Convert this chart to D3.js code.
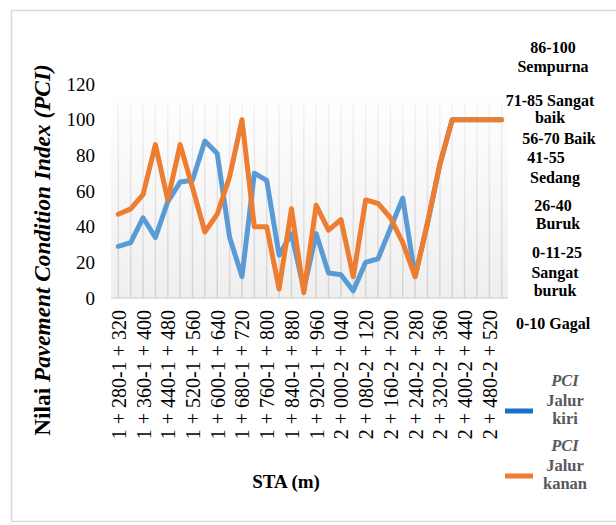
<!DOCTYPE html>
<html>
<head>
<meta charset="utf-8">
<script src="https://cdn.jsdelivr.net/npm/d3@7"></script>
<style>
  html, body { margin: 0; padding: 0; background: #fff; }
  svg { display: block; }
  text { font-family: "Liberation Serif", "Times New Roman", serif; }
</style>
</head>
<body>
<svg id="chart" width="616" height="525"></svg>
<script>
// Road segments (STA), every 40 m
const stations = [
  "1 + 280-1 + 320", "1 + 320-1 + 360", "1 + 360-1 + 400", "1 + 400-1 + 440",
  "1 + 440-1 + 480", "1 + 480-1 + 520", "1 + 520-1 + 560", "1 + 560-1 + 600",
  "1 + 600-1 + 640", "1 + 640-1 + 680", "1 + 680-1 + 720", "1 + 720-1 + 760",
  "1 + 760-1 + 800", "1 + 800-1 + 840", "1 + 840-1 + 880", "1 + 880-1 + 920",
  "1 + 920-1 + 960", "1 + 960-2 + 000", "2 + 000-2 + 040", "2 + 040-2 + 080",
  "2 + 080-2 + 120", "2 + 120-2 + 160", "2 + 160-2 + 200", "2 + 200-2 + 240",
  "2 + 240-2 + 280", "2 + 280-2 + 320", "2 + 320-2 + 360", "2 + 360-2 + 400",
  "2 + 400-2 + 440", "2 + 440-2 + 480", "2 + 480-2 + 520", "2 + 520-2 + 560"
];

// PCI, left lane
const pciKiri = [
  29, 31, 45, 34, 54, 65, 66, 88, 81, 34, 12, 70, 66, 24, 36, 5,
  36, 14, 13, 4, 20, 22, 39, 56, 12, 42, 75, 100, 100, 100, 100, 100
];

// PCI, right lane
const pciKanan = [
  47, 50, 58, 86, 55, 86, 62, 37, 47, 68, 100, 40, 40, 5, 50, 3,
  52, 38, 44, 12, 55, 53, 45, 31, 12, 42, 75, 100, 100, 100, 100, 100
];

const yTicks = [0, 20, 40, 60, 80, 100, 120];

// Condition classes listed on the right, one text line each
const classText = [
  "86-100", "Sempurna",
  "71-85 Sangat", "baik",
  "56-70 Baik",
  "41-55", "Sedang",
  "26-40", "Buruk",
  "0-11-25", "Sangat", "buruk",
  "0-10 Gagal"
];
// where each of those lines sits (centre x, centre y)
const classLayout = [
  [553, 47], [553, 66],
  [550, 100], [550, 117],
  [559, 138],
  [546, 157], [555, 177],
  [553, 205], [558, 223],
  [557, 252], [555, 272], [555, 290],
  [553, 323]
];

const seriesInfo = [
  { name: "Jalur kiri", values: pciKiri, line: "#5B9BD5", swatch: "#1872C6" },
  { name: "Jalur kanan", values: pciKanan, line: "#ED7D31", swatch: "#ED7D31" }
];

const svg = d3.select("#chart");
const defs = svg.append("defs");

const plot = { left: 111, right: 508, top: 84, bottom: 298 };

const x = d3.scalePoint().domain(stations).range([118.3, 501.7]);
const y = d3.scaleLinear().domain([0, 120]).range([298, 84]);

// Outer frame
svg.append("rect")
  .attr("x", 11.5).attr("y", 10.5)
  .attr("width", 640).attr("height", 511)
  .attr("fill", "#fff").attr("stroke", "#d9d9d9").attr("stroke-width", 1.5);

// Plot area with a soft vertical fade
const bg = defs.append("linearGradient").attr("id", "plotFade")
  .attr("x1", 0).attr("y1", 0).attr("x2", 0).attr("y2", 1);
bg.append("stop").attr("offset", "0%").attr("stop-color", "#ffffff");
bg.append("stop").attr("offset", "100%").attr("stop-color", "#efefef");

svg.append("rect")
  .attr("x", plot.left).attr("y", plot.top)
  .attr("width", plot.right - plot.left).attr("height", plot.bottom - plot.top)
  .attr("fill", "url(#plotFade)");

// Vertical gridlines fading out towards the top
const gg = defs.append("linearGradient").attr("id", "gridFade")
  .attr("gradientUnits", "userSpaceOnUse")
  .attr("x1", 0).attr("y1", plot.top).attr("x2", 0).attr("y2", plot.bottom);
gg.append("stop").attr("offset", "0%").attr("stop-color", "#d4d4d4").attr("stop-opacity", 0.15);
gg.append("stop").attr("offset", "100%").attr("stop-color", "#d4d4d4").attr("stop-opacity", 1);

svg.append("g")
  .selectAll("line")
  .data(stations)
  .join("line")
  .attr("x1", d => x(d)).attr("x2", d => x(d))
  .attr("y1", plot.top + 20).attr("y2", plot.bottom)
  .attr("stroke", "url(#gridFade)")
  .attr("stroke-width", 1.5);

// Category axis, every second station labelled
const xAxis = d3.axisBottom(x)
  .tickValues(stations.filter((d, i) => i % 2 === 0))
  .tickSize(0).tickPadding(0);
const gx = svg.append("g").attr("transform", `translate(0,${plot.bottom})`).call(xAxis);
gx.select(".domain").attr("d", `M${plot.left},0H${plot.right}`)
  .attr("stroke", "#d9d9d9").attr("stroke-width", 1.5);
gx.selectAll(".tick text")
  .attr("fill", "#000")
  .attr("font-size", 20)
  .attr("text-anchor", "end")
  .attr("dy", null)
  .attr("dominant-baseline", "central")
  .attr("transform", "translate(0,12) rotate(-90)")
  .attr("y", 0).attr("x", 0);

// Value axis
const yAxis = d3.axisLeft(y).tickValues(yTicks).tickSize(0).tickPadding(0);
const gy = svg.append("g").attr("transform", "translate(95,0)").call(yAxis);
gy.select(".domain").remove();
gy.selectAll(".tick text")
  .attr("fill", "#000")
  .attr("font-size", 19);

// PCI lines
const line = d3.line().x((d, i) => x(stations[i])).y(d => y(d));
svg.append("g")
  .selectAll("path")
  .data(seriesInfo)
  .join("path")
  .attr("d", d => line(d.values))
  .attr("fill", "none")
  .attr("stroke", d => d.line)
  .attr("stroke-width", 5)
  .attr("stroke-linejoin", "round")
  .attr("stroke-linecap", "round");

// Axis titles
const yTitle = svg.append("text")
  .attr("transform", "translate(50,250) rotate(-90)")
  .attr("text-anchor", "middle")
  .attr("font-size", 23.3)
  .attr("font-weight", "bold")
  .attr("fill", "#000");
yTitle.append("tspan").text("Nilai ");
yTitle.append("tspan").attr("font-style", "italic").text("Pavement Condition Index (PCI)");

svg.append("text")
  .attr("x", 286).attr("y", 488)
  .attr("text-anchor", "middle")
  .attr("font-size", 19)
  .attr("font-weight", "bold")
  .attr("fill", "#000")
  .text("STA (m)");

// Condition classes
svg.append("g")
  .selectAll("text")
  .data(classText)
  .join("text")
  .attr("x", (d, i) => classLayout[i][0])
  .attr("y", (d, i) => classLayout[i][1])
  .attr("text-anchor", "middle")
  .attr("dominant-baseline", "central")
  .attr("font-size", 16)
  .attr("font-weight", "bold")
  .attr("fill", "#000")
  .text(d => d);

// Legend
const legendY = [411, 476];
const lg = svg.append("g")
  .selectAll("g")
  .data(seriesInfo)
  .join("g")
  .attr("transform", (d, i) => `translate(0,${legendY[i]})`);
lg.append("line")
  .attr("x1", 505).attr("x2", 533)
  .attr("stroke", d => d.swatch).attr("stroke-width", 5);
const lt = lg.append("text")
  .attr("text-anchor", "middle")
  .attr("font-size", 16.5)
  .attr("font-weight", "bold")
  .attr("fill", "#595959");
lt.append("tspan").attr("x", 565).attr("y", -25).attr("font-style", "italic").text("PCI");
lt.append("tspan").attr("x", 565).attr("y", -5).text("Jalur");
lt.append("tspan").attr("x", 565).attr("y", 13).text(d => d.name.split(" ")[1]);
</script>
</body>
</html>
